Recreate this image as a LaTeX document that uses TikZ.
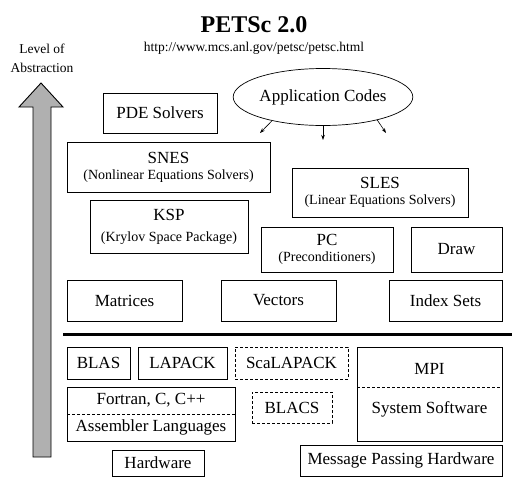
\documentclass[tikz,border=0pt]{standalone}
\usepackage{fontspec}
\setmainfont{Liberation Serif}
\usetikzlibrary{shapes.geometric,arrows.meta}
\definecolor{arrowgray}{RGB}{176,176,176}
\newcommand{\bigf}{\fontsize{17}{19}\selectfont}
\newcommand{\smf}{\fontsize{14}{15}\selectfont}
\begin{document}
\begin{tikzpicture}[x=1pt,y=-1pt,
  box/.style={draw,line width=0.9pt,inner sep=0pt,font=\bigf,align=center},
  dbox/.style={box,dashed,dash pattern=on 3pt off 2pt},
  lbl/.style={inner sep=0pt,align=center},
  conn/.style={line width=0.6pt,-{Stealth[length=5pt,width=3.5pt]}}]
\useasboundingbox (0,0) rectangle (530,496);
% titles
\node[lbl,font=\fontsize{24}{26}\selectfont\bfseries] (title) at (254,25) {PETSc 2.0};
\node[lbl,font=\fontsize{13.5}{15}\selectfont] (url) at (254,48) {http://www.mcs.anl.gov/petsc/petsc.html};
\node[lbl,font=\fontsize{13.5}{15}\selectfont] (lev1) at (42,49) {Level of};
\node[lbl,font=\fontsize{13.5}{15}\selectfont] (lev2) at (42,68) {Abstraction};
% big arrow
\draw[line width=0.9pt,fill=arrowgray] (41,83) -- (63,107) -- (51,107) -- (51,457) -- (33,457) -- (33,107) -- (19,107) -- cycle;
% upper layer
\node[box,minimum width=114,minimum height=40] (pde) at (160,113) {PDE Solvers};
\node[draw,ellipse,line width=0.7pt,inner sep=0pt,minimum width=168,minimum height=57,font=\bigf] (app) at (323,97) {Application Codes};
\coordinate (a1) at (260,133);
\coordinate (a2) at (323,140);
\coordinate (a3) at (386,133);
\draw[conn] (app.205) -- (a1);
\draw[conn] (app.270) -- (a2);
\draw[conn] (app.337) -- (a3);
\node[box,minimum width=203,minimum height=50] (snes) at (168.5,167) {SNES\\[-3pt]{\smf (Nonlinear Equations Solvers)}};
\node[box,minimum width=176,minimum height=49] (sles) at (380,192.5) {SLES\\[-3pt]{\smf (Linear Equations Solvers)}};
\node[box,minimum width=158,minimum height=53] (ksp) at (169,226.5) {KSP\\[2pt]{\smf (Krylov Space Package)}};
\node[box,minimum width=132,minimum height=45] (pc) at (327,249.5) {PC\\[-3pt]{\smf (Preconditioners)}};
\node[box,minimum width=91,minimum height=45] (draw) at (456.5,249.5) {Draw};
\node[box,minimum width=115,minimum height=41] (mat) at (124.5,300.5) {Matrices};
\node[box,minimum width=115,minimum height=41] (vec) at (278.5,300.5) {Vectors};
\node[box,minimum width=113,minimum height=41] (is) at (445.5,300.5) {Index Sets};
% separator
\coordinate (s1) at (63,334);
\coordinate (s2) at (512,334);
\draw[line width=3pt] (s1) -- (s2);
% lower layer
\node[box,minimum width=63,minimum height=32] (blas) at (98.5,363) {BLAS};
\node[box,minimum width=89,minimum height=32] (lapack) at (182.5,363) {LAPACK};
\node[dbox,minimum width=113,minimum height=32] (scal) at (291.5,363) {ScaLAPACK};
\node[dbox,minimum width=80,minimum height=31] (blacs) at (292,407.5) {BLACS};
% MPI box
\node[box,minimum width=145,minimum height=94] (mpibox) at (429.5,394) {};
\coordinate (m1) at (357,387);
\coordinate (m2) at (502,387);
\draw[dashed,dash pattern=on 3pt off 2pt,line width=0.9pt] (m1) -- (m2);
\node[lbl,font=\bigf] (mpi) at (429.5,369) {MPI};
\node[lbl,font=\bigf] (sys) at (429.5,409) {System Software};
% Fortran box
\node[box,minimum width=168,minimum height=54] (fbox) at (151,414) {};
\coordinate (f1) at (67,414);
\coordinate (f2) at (235,414);
\draw[dashed,dash pattern=on 3pt off 2pt,line width=0.9pt] (f1) -- (f2);
\node[lbl,font=\bigf] (fort) at (151,400.5) {Fortran, C, C++};
\node[lbl,font=\bigf] (asm) at (151,427.5) {Assembler Languages};
% hardware
\node[box,minimum width=92,minimum height=26] (hw) at (158,463) {Hardware};
\node[box,minimum width=202,minimum height=31] (mph) at (401,460.5) {Message Passing Hardware};
\end{tikzpicture}
\end{document}
